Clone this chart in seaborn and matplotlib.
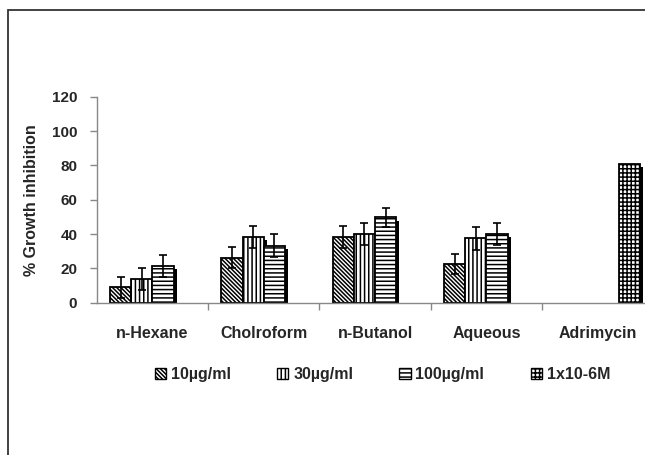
import numpy as np
import pandas as pd
import matplotlib
matplotlib.use("Agg")
import matplotlib.pyplot as plt
import seaborn as sns
from matplotlib import patheffects as pe
from matplotlib.patches import Rectangle, Patch
from matplotlib.container import BarContainer

# data
solvents = ['n-Hexane', 'Cholroform', 'n-Butanol', 'Aqueous', 'Adrimycin']
conc = ['10µg/ml', '30µg/ml', '100µg/ml', '1x10-6M']
v10 = [8.8, 26.3, 38.4, 22.6, np.nan]
v30 = [13.6, 38.4, 40.0, 37.4, np.nan]
v100 = [21.5, 33.3, 49.7, 40.2, np.nan]
v6m = [np.nan, np.nan, np.nan, np.nan, 81.0]
e10 = [6.2, 6.3, 6.4, 5.7, np.nan]
e30 = [6.4, 6.4, 6.2, 6.5, np.nan]
e100 = [6.3, 6.7, 5.7, 6.4, np.nan]
e6m = [np.nan, np.nan, np.nan, np.nan, np.nan]

hatches = ['\\' * 8, '||||', '----', '++++']

rows = []
for c, vals, errs in zip(conc, [v10, v30, v100, v6m], [e10, e30, e100, e6m]):
    for s, v, e in zip(solvents, vals, errs):
        if not np.isnan(v):
            rows.append({'solvent': s, 'conc': c, 'value': v, 'err': e})
df = pd.DataFrame(rows)

sns.set_style('ticks')
plt.rcParams['font.family'] = ['Liberation Sans', 'DejaVu Sans']
plt.rcParams['font.weight'] = 'bold'
plt.rcParams['hatch.linewidth'] = 1.1

fig = plt.figure(figsize=(6.45, 4.55), dpi=100)
ax = fig.add_axes([0.150, 0.335, 0.863, 0.452])

sns.barplot(data=df, x='solvent', y='value', hue='conc', order=solvents,
            hue_order=conc, palette=['white'] * 4, edgecolor='black',
            linewidth=1.3, width=0.76, errorbar=None, legend=False, ax=ax)

# hatches, shadows and error bars
bar_conts = [c for c in ax.containers if isinstance(c, BarContainer)]
for cont in bar_conts:
    for bar in cont:
        xc = bar.get_x() + bar.get_width() / 2
        cat = solvents[int(round(xc))]
        top = bar.get_height()
        r = df[(df['solvent'] == cat) & (np.isclose(df['value'], top))]
        i = conc.index(r['conc'].iloc[0])
        bar.set_hatch(hatches[i])
        bar.set_path_effects([pe.SimplePatchShadow(offset=(2.3, -2.3),
                                                   shadow_rgbFace='black', alpha=1.0),
                              pe.Normal()])
        if not np.isnan(r['err'].iloc[0]):
            ax.errorbar(xc, top, yerr=r['err'].iloc[0], fmt='none',
                        ecolor='black', elinewidth=1.2, capsize=2.7, capthick=1.2,
                        zorder=5)

ax.set_ylim(0, 120)
ax.set_yticks(range(0, 121, 20))
ax.set_xlim(-0.5, 4.5)
ax.set_xticks(range(len(solvents)))
ax.set_xticklabels(solvents, fontsize=11.5, fontweight='bold')
ax.set_xticks(np.arange(0.5, 4.5, 1), minor=True)
ax.tick_params(axis='x', which='major', length=0, pad=17)
ax.tick_params(axis='x', which='minor', length=5, color='#888888', width=1)
ax.tick_params(axis='y', length=5, color='#888888', width=1, pad=9, labelsize=11)
for lab in ax.get_yticklabels():
    lab.set_fontweight('bold')

ax.set_xlabel('')
ax.set_ylabel('% Growth inhibition', fontsize=11.5, fontweight='bold', labelpad=9)
sns.despine(ax=ax)
for sp in ['left', 'bottom']:
    ax.spines[sp].set_color('#888888')
    ax.spines[sp].set_linewidth(1)

handles = [Patch(facecolor='white', edgecolor='black', hatch=h, linewidth=1) for h in hatches]
fig.legend(handles, conc, loc='center', bbox_to_anchor=(0.593, 0.176), ncol=4,
           frameon=False, handlelength=0.7, handleheight=0.7, handletextpad=0.3,
           columnspacing=2.9, prop={'weight': 'bold', 'size': 11.5})

# outer frame of the original picture
fig.add_artist(Rectangle((8 / 645, -0.1), 1.2, 1 - 10 / 455 + 0.1,
                         transform=fig.transFigure, fill=False,
                         edgecolor='#333333', linewidth=1.3))

fig.savefig('out.png', dpi=100)
